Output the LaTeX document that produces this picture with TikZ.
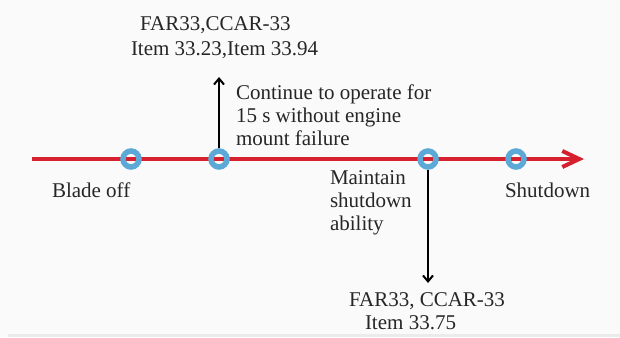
\documentclass[tikz,border=0pt]{standalone}
\usepackage{fontspec}
\setmainfont{Liberation Serif}
\usetikzlibrary{arrows.meta}
\definecolor{tlred}{HTML}{D7202E}
\definecolor{tlblue}{HTML}{5CA8D6}
\definecolor{bgcol}{HTML}{FAFAFA}
\definecolor{edgecol}{HTML}{EBEBEB}
\tikzset{
  lbl/.style={inner sep=0pt, outer sep=0pt, font=\fontsize{21}{23}\selectfont, text=black!85, align=left},
  ring/.style={circle, draw=tlblue, line width=5.5pt, minimum size=16pt, inner sep=0pt},
  timeline/.style={draw=tlred, line width=4pt, -{Straight Barb[length=17pt,width=16pt,line width=4pt]}},
  req/.style={draw=black, line width=1.8pt, -{Straight Barb[length=6pt,width=10pt,line width=2pt]}}
}
\begin{document}
\begin{tikzpicture}[x=1pt,y=-1pt]
\useasboundingbox (0,0) rectangle (620,337);
\fill[bgcol] (0,0) rectangle (620,337);
\fill[edgecol] (8,334) rectangle (620,337);
% timeline
\coordinate (start) at (32,159);
\coordinate (finish) at (584,159);
\draw[timeline] (start) -- (finish);
% event rings
\node[ring] (c1) at (131,159) {};
\node[ring] (c2) at (219,159) {};
\node[ring] (c3) at (428,159) {};
\node[ring] (c4) at (516,159) {};
% labels
\node[lbl, anchor=west] (blade) at (52,190) {Blade off};
\node[lbl, anchor=west] (shut) at (505,190) {Shutdown};
\node[lbl, anchor=west] (cont) at (236,115) {Continue to operate for\\15 s without engine\\mount failure};
\node[lbl, anchor=west] (maint) at (330,203) {Maintain\\shutdown\\ability};
\node[lbl, anchor=west] (far1) at (140,25) {FAR33,CCAR-33};
\node[lbl, anchor=west] (item1) at (131,50) {Item 33.23,Item 33.94};
\node[lbl, anchor=west] (far2) at (349,301) {FAR33, CCAR-33};
\node[lbl, anchor=west] (item2) at (365,323) {Item 33.75};
% requirement arrows
\coordinate (uptip) at (219,77);
\coordinate (downtip) at (428,283);
\draw[req] (c2.north) -- (uptip);
\draw[req] (c3.south) -- (downtip);
\end{tikzpicture}
\end{document}
